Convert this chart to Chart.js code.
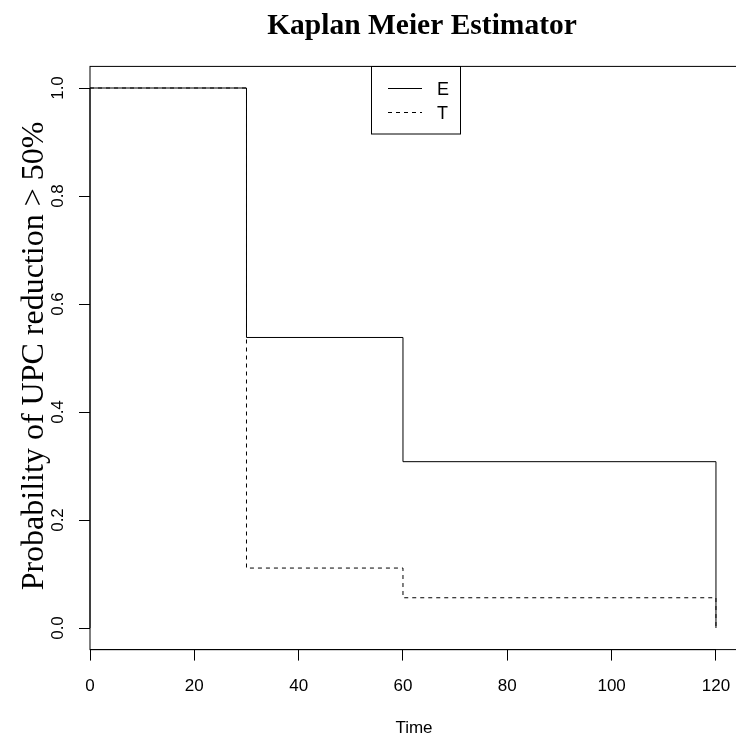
<!DOCTYPE html>
<html>
<head>
<meta charset="utf-8">
<script src="https://cdn.jsdelivr.net/npm/chart.js@4.4.0/dist/chart.umd.min.js"></script>
<style>
  html, body { margin: 0; padding: 0; background: #fff; overflow: hidden; width: 736px; height: 738px; }
  #wrap { width: 760px; height: 738px; }
  canvas { display: block; }
</style>
</head>
<body>
<div id="wrap"><canvas id="km" width="760" height="738"></canvas></div>
<script>
// Kaplan-Meier step curves for the two groups
const titleText = 'Kaplan Meier Estimator';
const xTitle = 'Time';
const yTitle = 'Probability of UPC reduction > 50%';
const groups = ['E', 'T'];
const times = [0, 30, 60, 120];
const survivalE = [1, 0.538, 0.308, 0];
const survivalT = [1, 0.111, 0.056, 0];
const xTicks = [0, 20, 40, 60, 80, 100, 120];
const yTicks = [0, 0.2, 0.4, 0.6, 0.8, 1.0];
const yTickLabels = ['0.0', '0.2', '0.4', '0.6', '0.8', '1.0'];

const SANS = '"Liberation Sans", Arial, sans-serif';
const SERIF = '"Liberation Serif", "Times New Roman", serif';

const toPoints = (ys) => times.map((t, i) => ({ x: t, y: ys[i] }));

// Base-graphics style frame: box, axis lines, tick labels, titles, legend
const framePlugin = {
  id: 'frame',
  afterDraw(chart) {
    const ctx = chart.ctx;
    const a = chart.chartArea;
    const xs = chart.scales.x;
    const ys = chart.scales.y;
    ctx.save();
    ctx.strokeStyle = '#000';
    ctx.lineWidth = 1;

    // plot box
    ctx.strokeRect(a.left, a.top, a.right - a.left, a.bottom - a.top);

    // axis lines spanning first to last tick
    ctx.beginPath();
    ctx.moveTo(xs.getPixelForValue(xTicks[0]), a.bottom);
    ctx.lineTo(xs.getPixelForValue(xTicks[xTicks.length - 1]), a.bottom);
    ctx.moveTo(a.left, ys.getPixelForValue(yTicks[0]));
    ctx.lineTo(a.left, ys.getPixelForValue(yTicks[yTicks.length - 1]));
    ctx.stroke();

    ctx.fillStyle = '#000';

    // x tick labels
    ctx.font = '17px ' + SANS;
    ctx.textAlign = 'center';
    ctx.textBaseline = 'alphabetic';
    xTicks.forEach(v => ctx.fillText(String(v), xs.getPixelForValue(v), 690.5));

    // y tick labels, rotated
    yTicks.forEach((v, i) => {
      ctx.save();
      ctx.translate(63, ys.getPixelForValue(v));
      ctx.rotate(-Math.PI / 2);
      ctx.textAlign = 'center';
      ctx.textBaseline = 'alphabetic';
      ctx.fillText(yTickLabels[i], 0, 0);
      ctx.restore();
    });

    // x axis title
    ctx.font = '17px ' + SANS;
    ctx.textAlign = 'center';
    ctx.fillText(xTitle, 414, 733);

    // y axis title
    ctx.save();
    ctx.translate(43, 356);
    ctx.rotate(-Math.PI / 2);
    ctx.font = '32px ' + SERIF;
    ctx.textAlign = 'center';
    ctx.textBaseline = 'alphabetic';
    ctx.fillText(yTitle, 0, 0);
    ctx.restore();

    // main title
    ctx.font = 'bold 29.5px ' + SERIF;
    ctx.textAlign = 'center';
    ctx.fillText(titleText, 422, 34);

    // legend
    const lx = 371.5, ly = 66.5, lw = 89, lh = 67.5;
    ctx.fillStyle = '#fff';
    ctx.fillRect(lx, ly, lw, lh);
    ctx.strokeRect(lx, ly, lw, lh);
    ctx.fillStyle = '#000';
    ctx.font = '18px ' + SANS;
    ctx.textAlign = 'left';
    chart.data.datasets.forEach((ds, i) => {
      const yRow = 88 + i * 24;
      ctx.save();
      ctx.setLineDash(ds.borderDash || []);
      ctx.beginPath();
      ctx.moveTo(388, yRow + 0.5);
      ctx.lineTo(422, yRow + 0.5);
      ctx.stroke();
      ctx.restore();
      ctx.fillText(ds.label, 437, yRow + 6.5);
    });
    ctx.restore();
  }
};

new Chart(document.getElementById('km'), {
  type: 'line',
  data: {
    datasets: [
      {
        label: groups[0],
        data: toPoints(survivalE),
        stepped: 'before',
        borderColor: '#000',
        borderWidth: 1,
        pointRadius: 0,
        fill: false,
        order: 1
      },
      {
        label: groups[1],
        data: toPoints(survivalT),
        stepped: 'before',
        borderColor: '#000',
        borderWidth: 1,
        borderDash: [4, 4],
        pointRadius: 0,
        fill: false,
        order: 0
      }
    ]
  },
  options: {
    responsive: false,
    animation: false,
    devicePixelRatio: 1,
    layout: { padding: { left: 0, top: 66.4, right: 19, bottom: 0 } },
    plugins: {
      legend: { display: false },
      title: { display: false },
      tooltip: { enabled: false }
    },
    scales: {
      x: {
        type: 'linear',
        min: 0,
        max: 124.8,
        afterBuildTicks: s => { s.ticks = xTicks.map(v => ({ value: v })); },
        afterFit: s => { s.height = 88.4; },
        ticks: { display: false },
        grid: { drawOnChartArea: false, drawTicks: true, tickLength: 11, color: '#000', lineWidth: 1 },
        border: { display: false }
      },
      y: {
        type: 'linear',
        min: -0.04,
        max: 1.04,
        afterBuildTicks: s => { s.ticks = yTicks.map(v => ({ value: v })); },
        afterFit: s => { s.width = 90; },
        ticks: { display: false },
        grid: { drawOnChartArea: false, drawTicks: true, tickLength: 11, color: '#000', lineWidth: 1 },
        border: { display: false }
      }
    }
  },
  plugins: [framePlugin]
});
</script>
</body>
</html>
